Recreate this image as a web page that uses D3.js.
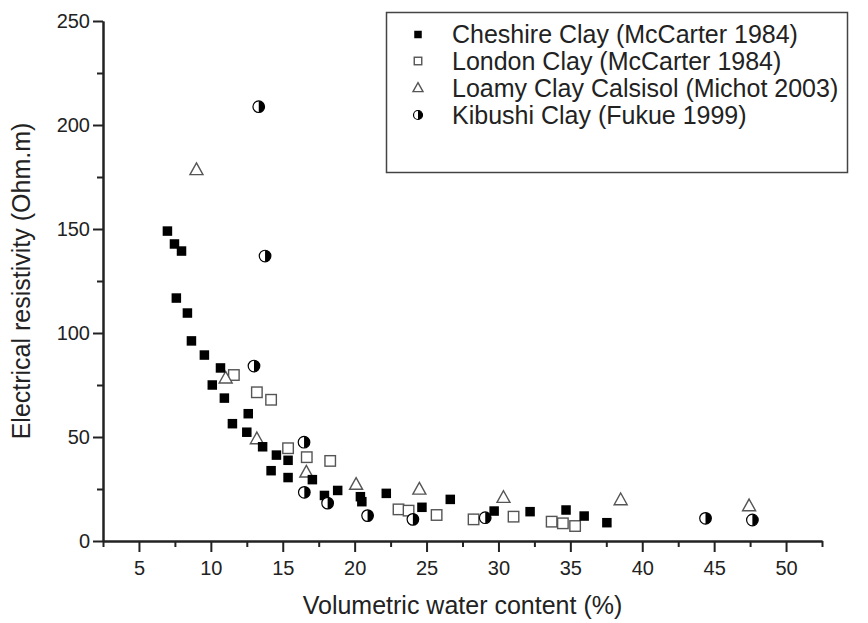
<!DOCTYPE html>
<html>
<head>
<meta charset="utf-8">
<script src="https://cdn.jsdelivr.net/npm/d3@7"></script>
<style>
  body { margin: 0; background: #fff; }
  svg { display: block; font-family: "Liberation Sans", Arial, sans-serif; }
</style>
</head>
<body>
<svg id="chart" width="868" height="623"></svg>
<script>
// ---- data ----
const seriesNames = [
  "Cheshire Clay (McCarter 1984)",
  "London Clay (McCarter 1984)",
  "Loamy Clay Calsisol (Michot 2003)",
  "Kibushi Clay (Fukue 1999)"
];
const cheshireX = [6.98, 7.47, 7.96, 7.6, 8.37, 8.65, 9.55, 10.1, 10.67, 10.94, 11.5, 12.6, 12.5, 13.6, 14.56, 14.19, 15.37, 15.37, 17.06, 17.9, 18.82, 20.4, 20.5, 22.2, 24.68, 26.65, 29.7, 32.2, 34.7, 35.96, 37.54];
const cheshireY = [149, 142.8, 139.4, 116.8, 109.6, 96.2, 89.4, 75, 83.2, 68.7, 56.4, 61.2, 52.3, 45.3, 41.3, 33.8, 38.8, 30.5, 29.5, 21.9, 24.3, 21.3, 18.9, 22.9, 16.2, 20, 14.4, 14.1, 14.9, 12, 8.8];
const londonX = [11.6, 13.2, 14.19, 15.37, 16.67, 18.3, 23.05, 23.75, 25.7, 28.27, 31.05, 33.7, 34.48, 35.33];
const londonY = [79.8, 71.5, 67.9, 44.6, 40.3, 38.5, 15.2, 14.6, 12.5, 10.4, 11.7, 9.3, 8.5, 7.2];
const loamyX = [9.0, 11.03, 13.2, 16.64, 20.1, 24.5, 30.35, 38.5, 47.43];
const loamyY = [178.4, 78.2, 49, 33, 27.1, 24.8, 20.8, 19.7, 16.8];
const kibushiX = [13.33, 13.77, 13.0, 16.48, 16.5, 18.12, 20.9, 24.05, 29.08, 44.4, 47.66];
const kibushiY = [208.8, 137, 84.1, 47.5, 23.4, 18.2, 12.2, 10.4, 11.2, 10.9, 10.1];

const xMajorTicks = [5, 10, 15, 20, 25, 30, 35, 40, 45, 50];
const xMinorTicks = [2.5, 7.5, 12.5, 17.5, 22.5, 27.5, 32.5, 37.5, 42.5, 47.5, 52.5];
const yMajorTicks = [0, 50, 100, 150, 200, 250];
const yMinorTicks = [25, 75, 125, 175, 225];
const xTitle = "Volumetric water content (%)";
const yTitle = "Electrical resistivity (Ohm.m)";

// ---- layout ----
const svg = d3.select("#chart");
const x = d3.scaleLinear().domain([2.5, 52.5]).range([103, 822]);
const y = d3.scaleLinear().domain([0, 250]).range([541, 21]);
const axisColor = "#222";

function styleAxis(g) {
  g.selectAll("path.domain").attr("stroke", axisColor).attr("stroke-width", 2);
  g.selectAll(".tick line").attr("stroke", axisColor).attr("stroke-width", 2);
  g.selectAll(".tick text").attr("fill", "#222");
}

// x axis
const gxMinor = svg.append("g").attr("transform", `translate(0,${y(0)})`)
  .call(d3.axisBottom(x).tickValues(xMinorTicks).tickSize(6).tickSizeOuter(0).tickFormat(""));
styleAxis(gxMinor);
const gx = svg.append("g").attr("transform", `translate(0,${y(0)})`)
  .call(d3.axisBottom(x).tickValues(xMajorTicks).tickSize(11).tickSizeOuter(0).tickPadding(9));
styleAxis(gx);
gx.selectAll(".tick text").attr("font-size", 20).attr("font-family", "Liberation Sans, Arial, sans-serif");

// y axis
const gyMinor = svg.append("g").attr("transform", `translate(${x(2.5)},0)`)
  .call(d3.axisLeft(y).tickValues(yMinorTicks).tickSize(6).tickSizeOuter(0).tickFormat(""));
styleAxis(gyMinor);
const gy = svg.append("g").attr("transform", `translate(${x(2.5)},0)`)
  .call(d3.axisLeft(y).tickValues(yMajorTicks).tickSize(10).tickSizeOuter(0).tickPadding(3));
styleAxis(gy);
gy.selectAll(".tick text").attr("font-size", 20).attr("font-family", "Liberation Sans, Arial, sans-serif");

// axis titles
svg.append("text").attr("x", (x(2.5) + x(52.5)) / 2).attr("y", 614)
  .attr("text-anchor", "middle").attr("font-size", 25).attr("fill", "#222")
  .text(xTitle);
svg.append("text").attr("transform", `translate(30,${(y(0) + y(250)) / 2}) rotate(-90)`)
  .attr("text-anchor", "middle").attr("font-size", 25).attr("fill", "#222")
  .text(yTitle);

// ---- markers ----
function filledSquare(g, cx, cy, s) {
  g.append("rect").attr("x", cx - s / 2).attr("y", cy - s / 2).attr("width", s).attr("height", s)
    .attr("fill", "#000");
}
function openSquare(g, cx, cy, s) {
  g.append("rect").attr("x", cx - s / 2).attr("y", cy - s / 2).attr("width", s).attr("height", s)
    .attr("fill", "#fff").attr("stroke", "#555").attr("stroke-width", 1.4);
}
function openTriangle(g, cx, cy, s) {
  const h = s * 0.9;
  g.append("path")
    .attr("d", `M${cx},${cy - h * 0.6}L${cx + s / 2},${cy + h * 0.4}L${cx - s / 2},${cy + h * 0.4}Z`)
    .attr("fill", "#fff").attr("stroke", "#555").attr("stroke-width", 1.4);
}
function halfCircle(g, cx, cy, r) {
  g.append("circle").attr("cx", cx).attr("cy", cy).attr("r", r)
    .attr("fill", "#fff").attr("stroke", "#000").attr("stroke-width", 1.2);
  g.append("path").attr("d", `M${cx},${cy - r}A${r},${r} 0 0 1 ${cx},${cy + r}Z`).attr("fill", "#000");
}

const plot = svg.append("g");
londonX.forEach((v, i) => openSquare(plot, x(v), y(londonY[i]), 10.5));
loamyX.forEach((v, i) => openTriangle(plot, x(v), y(loamyY[i]), 13));
cheshireX.forEach((v, i) => filledSquare(plot, x(v), y(cheshireY[i]), 9.5));
kibushiX.forEach((v, i) => halfCircle(plot, x(v), y(kibushiY[i]), 5.8));

// ---- legend ----
const leg = svg.append("g");
leg.append("rect").attr("x", 386.5).attr("y", 12.5).attr("width", 461).attr("height", 160)
  .attr("fill", "#fff").attr("stroke", "#444").attr("stroke-width", 1.5);
const legRows = [34.5, 61, 88, 115];
const drawers = [
  (g, cx, cy) => filledSquare(g, cx, cy, 7.5),
  (g, cx, cy) => openSquare(g, cx, cy, 7.5),
  (g, cx, cy) => openTriangle(g, cx, cy, 10),
  (g, cx, cy) => halfCircle(g, cx, cy, 4.5)
];
seriesNames.forEach((name, i) => {
  drawers[i](leg, 418, legRows[i]);
  leg.append("text").attr("x", 452).attr("y", legRows[i] + 8.5)
    .attr("font-size", 25).attr("fill", "#222").text(name);
});
</script>
</body>
</html>
